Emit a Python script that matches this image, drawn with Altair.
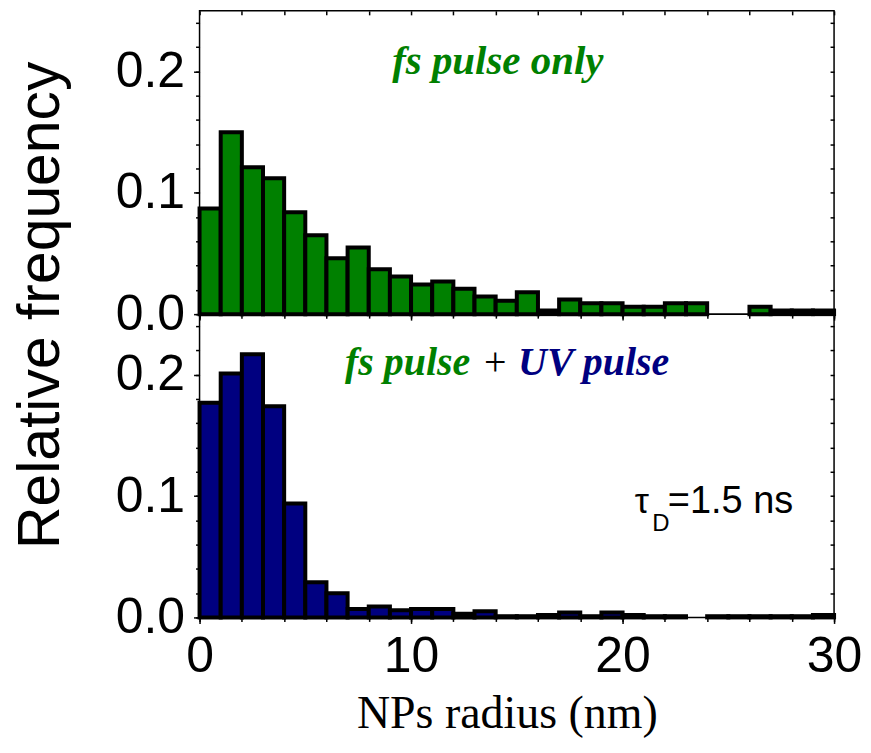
import altair as alt
import pandas as pd

# ---- data ----
bin_start = list(range(0, 30))
bin_end = list(range(1, 31))
freq_fs_only = [0.087, 0.150, 0.121, 0.112, 0.084, 0.065, 0.046, 0.055, 0.037, 0.031,
                0.0245, 0.027, 0.021, 0.0145, 0.011, 0.018, 0.003, 0.012, 0.009, 0.009,
                0.006, 0.006, 0.009, 0.009, 0.0, 0.0, 0.006, 0.003, 0.003, 0.003]
freq_fs_uv = [0.177, 0.201, 0.217, 0.174, 0.094, 0.029, 0.020, 0.007, 0.009, 0.006,
              0.007, 0.007, 0.003, 0.005, 0.001, 0.001, 0.002, 0.004, 0.001, 0.004,
              0.002, 0.001, 0.001, 0.0, 0.001, 0.001, 0.001, 0.001, 0.001, 0.002]
y_major_ticks = [0.0, 0.1, 0.2]
y_minor_ticks = [0.0, 0.02, 0.04, 0.06, 0.08, 0.1, 0.12, 0.14, 0.16, 0.18, 0.2, 0.22, 0.24]
x_major_ticks = [0, 10, 20, 30]
x_minor_ticks = [0, 2, 4, 6, 8, 10, 12, 14, 16, 18, 20, 22, 24, 26, 28, 30]
x_domain = [0, 30]
y_domain = [0, 0.25]
label_top = ["fs pulse only"]
label_fs = ["fs pulse"]
label_plus = ["+"]
label_uv = ["UV pulse"]
label_tau = ["\u03c4"]
label_sub = ["D"]
label_val = ["=1.5 ns"]

GREEN = "#008000"
NAVY = "#000080"

df_top = pd.DataFrame({"r0": bin_start, "r1": bin_end, "f": freq_fs_only})
df_bot = pd.DataFrame({"r0": bin_start, "r1": bin_end, "f": freq_fs_uv})

W, H = 636, 304


def xs():
    return alt.Scale(domain=x_domain, nice=False, zero=False)


def ys():
    return alt.Scale(domain=y_domain, nice=False, zero=True)


def bars(df, color, bottom_panel):
    if bottom_panel:
        xaxis = alt.Axis(orient="bottom", values=x_major_ticks, format="d",
                         labelFlush=False, labelOverlap=False, tickSize=6,
                         labelPadding=8, labelFontSize=50, labelFont="Liberation Sans",
                         title="NPs radius (nm)", titleFont="Liberation Serif",
                         titleFontSize=46, titleFontWeight="normal", titlePadding=10,
                         titleX=308)
    else:
        xaxis = alt.Axis(orient="bottom", values=x_major_ticks, labels=False,
                         tickSize=6, title=None)
    yaxis = alt.Axis(orient="left", values=y_major_ticks, format=".1f",
                     labelOverlap=False, tickSize=6, labelPadding=9,
                     labelFontSize=50, labelFont="Liberation Sans", title=None)
    return alt.Chart(df).transform_filter("datum.f > 0").mark_bar(
        fill=color, stroke="black", strokeWidth=4
    ).encode(
        x=alt.X("r0:Q", scale=xs(), axis=xaxis),
        x2="r1:Q",
        y=alt.Y("f:Q", scale=ys(), axis=yaxis),
        y2=alt.Y2Datum(0),
    )


def minor_axes(df):
    xaxis = alt.Axis(orient="bottom", values=x_minor_ticks, labels=False,
                     tickSize=4, title=None)
    yaxis = alt.Axis(orient="left", values=y_minor_ticks, labels=False,
                     tickSize=4, title=None)
    return alt.Chart(df).mark_point(opacity=0).encode(
        x=alt.X("r0:Q", scale=xs(), axis=xaxis),
        y=alt.Y("f:Q", scale=ys(), axis=yaxis),
    )


def frame_axes(df, with_top):
    if with_top:
        xaxis = alt.Axis(orient="top", values=x_minor_ticks, labels=False,
                         tickSize=4, offset=-4, title=None)
        xenc = alt.X("r0:Q", scale=xs(), axis=xaxis)
    else:
        xenc = alt.X("r0:Q", scale=xs(), axis=None)
    yaxis = alt.Axis(orient="right", values=y_minor_ticks, labels=False,
                     tickSize=4, offset=-4, title=None)
    return alt.Chart(df).mark_point(opacity=0).encode(
        x=xenc, y=alt.Y("f:Q", scale=ys(), axis=yaxis)
    )


def label(text_list, x, y, color, size, align, style="italic", weight="bold",
          font="Liberation Serif"):
    d = pd.DataFrame({"t": text_list})
    return alt.Chart(d).mark_text(
        align=align, baseline="alphabetic", font=font, fontSize=size,
        fontStyle=style, fontWeight=weight, color=color
    ).encode(
        x=alt.XDatum(x, type="quantitative", scale=xs(), axis=None),
        y=alt.YDatum(y, type="quantitative", scale=ys(), axis=None),
        text="t:N",
    )


top = alt.layer(
    bars(df_top, GREEN, False),
    minor_axes(df_top),
    frame_axes(df_top, True),
    label(label_top, 14.1, 0.198, GREEN, 41, "center"),
).resolve_scale(x="independent", y="independent").properties(width=W, height=H)

bottom = alt.layer(
    bars(df_bot, NAVY, True),
    minor_axes(df_bot),
    frame_axes(df_bot, False),
    label(label_fs, 12.8, 0.2, GREEN, 40, "right"),
    label(label_plus, 13.98, 0.2, "black", 40, "center", style="normal", weight="normal"),
    label(label_uv, 15.06, 0.2, NAVY, 40, "left"),
    label(label_tau, 20.58, 0.086, "black", 36, "left", style="normal",
          weight="normal", font="Liberation Sans"),
    label(label_sub, 21.4, 0.071, "black", 24, "left", style="normal",
          weight="normal", font="Liberation Sans"),
    label(label_val, 22.14, 0.086, "black", 38, "left", style="normal",
          weight="normal", font="Liberation Sans"),
).resolve_scale(x="independent", y="independent").properties(width=W, height=H)

chart = alt.vconcat(top, bottom, spacing=0, bounds="flush").properties(
    title=alt.TitleParams(text="Relative frequency", orient="left", anchor="middle",
                          font="Liberation Sans", fontSize=59, dx=68,
                          fontWeight="normal", color="black", offset=44),
    padding={"left": 3, "top": 0, "right": 0, "bottom": 2},
).configure_view(
    stroke="black", strokeWidth=1.5
).configure_axis(
    domain=False, grid=False, tickColor="black", tickWidth=1.5,
    labelColor="black", titleColor="black"
)

chart.save("out.html", embed_options={"renderer": "svg", "actions": False})
